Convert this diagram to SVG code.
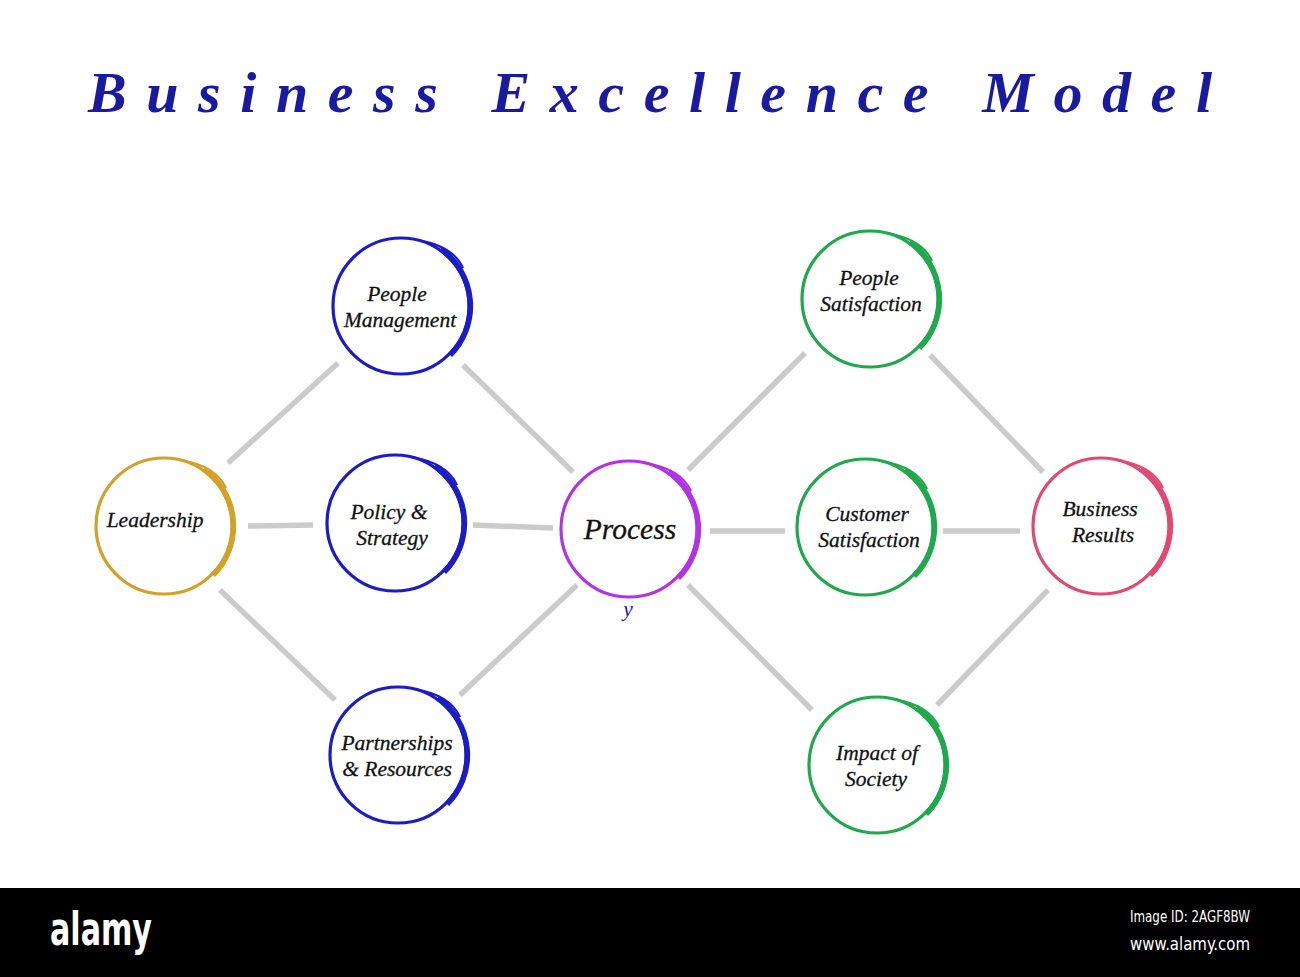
<svg xmlns="http://www.w3.org/2000/svg" xmlns:xlink="http://www.w3.org/1999/xlink" width="1300" height="977" viewBox="0 0 1300 977">
<style>
.title{font-family:"Liberation Serif","Times New Roman",serif;font-style:italic;font-weight:bold;font-size:58px;fill:#1a1a9e}
.lbl{font-family:"Liberation Serif","Times New Roman",serif;font-style:italic;font-size:21.5px;fill:#111;text-anchor:middle;stroke:#111;stroke-width:0.3}
.big{font-size:29.5px}
.conn line{stroke:#cbcbcb;stroke-width:5.5}
.blue{color:#1c1cc4}.gold{color:#d3a02a}.purple{color:#b332e3}.green{color:#1fa84c}.pink{color:#e04a72}
</style>
<defs>
<g id="ring" fill="none" stroke="currentColor">
<circle cx="0" cy="0" r="68" stroke-width="3.2"/>
<path d="M39.8 -56.9 A69.5 69.5 0 0 1 49.1 49.1" stroke-width="5.5"/>
<path d="M17.6 -65.7 Q52 -60 62 -38" stroke-width="2.2"/>
</g>
</defs>
<rect width="1300" height="977" fill="#fff"/>
<text class="title" x="88" y="112" textLength="1124" lengthAdjust="spacing">Business Excellence Model</text>
<g id="connectors" class="conn">
<line x1="228" y1="463" x2="338" y2="363"/>
<line x1="248" y1="526" x2="313" y2="525"/>
<line x1="220" y1="590" x2="335" y2="700"/>
<line x1="463" y1="365" x2="573" y2="472"/>
<line x1="473" y1="525" x2="553" y2="528"/>
<line x1="460" y1="695" x2="577" y2="585"/>
<line x1="688" y1="470" x2="805" y2="353"/>
<line x1="710" y1="531" x2="785" y2="531"/>
<line x1="688" y1="585" x2="812" y2="710"/>
<line x1="930" y1="355" x2="1043" y2="472"/>
<line x1="943" y1="531" x2="1020" y2="531"/>
<line x1="937" y1="705" x2="1048" y2="590"/>
</g>
<g id="leadership"><use xlink:href="#ring" x="164" y="526" class="gold"/><text class="lbl" x="155" y="527">Leadership</text></g>
<g id="people-management"><use xlink:href="#ring" x="401" y="306" class="blue"/><text class="lbl" x="397" y="301">People</text><text class="lbl" x="400" y="327">Management</text></g>
<g id="policy-strategy"><use xlink:href="#ring" x="395" y="523" class="blue"/><text class="lbl" x="389" y="519">Policy &amp;</text><text class="lbl" x="392" y="545">Strategy</text></g>
<g id="partnerships-resources"><use xlink:href="#ring" x="398" y="755" class="blue"/><text class="lbl" x="397" y="750">Partnerships</text><text class="lbl" x="397" y="776">&amp; Resources</text></g>
<g id="process"><use xlink:href="#ring" x="629" y="529" class="purple"/><text class="lbl big" x="630" y="539">Process</text><text class="lbl" x="628" y="616" style="fill:#1c1c9e;stroke:none">y</text></g>
<g id="people-satisfaction"><use xlink:href="#ring" x="870" y="299" class="green"/><text class="lbl" x="869" y="285">People</text><text class="lbl" x="871" y="311">Satisfaction</text></g>
<g id="customer-satisfaction"><use xlink:href="#ring" x="865" y="527" class="green"/><text class="lbl" x="867" y="521">Customer</text><text class="lbl" x="869" y="547">Satisfaction</text></g>
<g id="business-results"><use xlink:href="#ring" x="1101" y="526" class="pink"/><text class="lbl" x="1100" y="516">Business</text><text class="lbl" x="1103" y="542">Results</text></g>
<g id="impact-society"><use xlink:href="#ring" x="877" y="765" class="green"/><text class="lbl" x="877" y="760">Impact of</text><text class="lbl" x="876" y="786">Society</text></g>
<g id="footer">
<rect x="0" y="888" width="1300" height="89" fill="#000"/>
<text x="50" y="945" font-family="'DejaVu Sans Condensed','DejaVu Sans',sans-serif" font-stretch="condensed" font-weight="bold" font-size="46" fill="#fff" textLength="102" lengthAdjust="spacingAndGlyphs">alamy</text>
<text x="1130" y="922" font-family="'DejaVu Sans Condensed','DejaVu Sans',sans-serif" font-size="15" fill="#fff" textLength="120" lengthAdjust="spacingAndGlyphs">Image ID: 2AGF8BW</text>
<text x="1130" y="950" font-family="'DejaVu Sans Condensed','DejaVu Sans',sans-serif" font-size="18" fill="#fff" textLength="120" lengthAdjust="spacingAndGlyphs">www.alamy.com</text>
</g>
</svg>
